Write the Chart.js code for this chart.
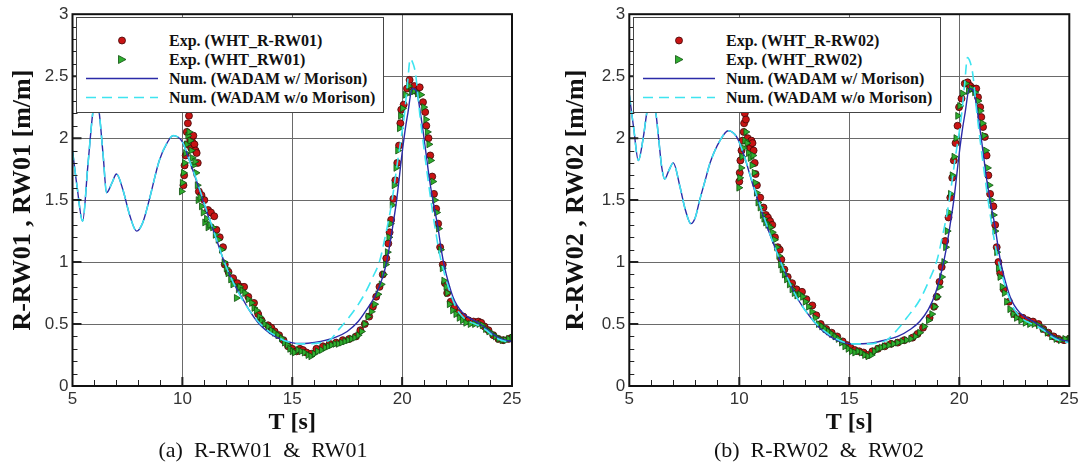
<!DOCTYPE html>
<html>
<head>
<meta charset="utf-8">
<script src="https://cdn.jsdelivr.net/npm/chart.js@4.4.1/dist/chart.umd.min.js"></script>
<style>
  body { margin: 0; background: #fff; }
  #page { position: relative; width: 1082px; height: 476px; overflow: hidden; }
  .panel { position: absolute; top: 0; width: 541px; height: 440px; }
  .legend { position: absolute; top: 17px; width: 306px; height: 94px; background: #fff; border: 1px solid #444; }
  .legend .row { position: absolute; left: 0; width: 100%; height: 19px; }
  .legend svg { position: absolute; left: 8px; top: 0; }
  .legend span { position: absolute; left: 92px; top: 0; font: bold 16px "Liberation Serif", serif; line-height: 19px; color: #111; white-space: nowrap; }
  .caption { position: absolute; top: 437px; width: 526px; text-align: center; font: 22px "Liberation Serif", serif; line-height: 26px; white-space: pre; color: #111; }
</style>
</head>
<body>
<div id="page">
  <div class="panel" style="left:0"><canvas id="chartA"></canvas></div>
  <div class="panel" style="left:541px"><canvas id="chartB"></canvas></div>
  <div class="legend" id="legendA" style="left:76px"></div>
  <div class="legend" id="legendB" style="left:633px"></div>
  <div class="caption" style="left:0">(a)  R-RW01  &amp;  RW01</div>
  <div class="caption" style="left:556px">(b)  R-RW02  &amp;  RW02</div>
</div>
<script>
// ---- data: [T (s), value (m/m)] ----

// (a) numerical, WADAM with Morison
const numWithA = [[5.0,1.90],[5.2,1.62],[5.46,1.33],[5.7,1.78],[5.92,2.20],[6.07,2.35],[6.22,2.20],[6.4,1.85],[6.55,1.56],[6.8,1.64],[7.0,1.71],[7.3,1.58],[7.6,1.38],[7.92,1.25],[8.2,1.32],[8.49,1.50],[8.95,1.82],[9.3,1.96],[9.58,2.02],[10.0,1.97],[10.26,1.85],[10.65,1.65],[11.02,1.45],[11.48,1.22],[11.93,0.99],[12.3,0.84],[12.69,0.72],[13.05,0.61],[13.45,0.51],[13.8,0.45],[14.2,0.40],[14.6,0.37],[14.96,0.35],[15.35,0.343],[15.72,0.345],[16.3,0.36],[16.93,0.39],[17.5,0.44],[18.0,0.52],[18.4,0.62],[18.75,0.72],[19.0,0.82],[19.2,0.93],[19.4,1.10],[19.6,1.32],[19.75,1.50],[20.0,1.88],[20.15,2.08],[20.26,2.20],[20.46,2.40],[20.67,2.37],[20.8,2.24],[20.95,2.06],[21.1,1.86],[21.25,1.66],[21.45,1.45],[21.63,1.28],[21.78,1.10],[21.93,0.96],[22.1,0.84],[22.31,0.72],[22.5,0.65],[22.76,0.59],[23.05,0.55],[23.37,0.52],[23.7,0.48],[23.98,0.44],[24.2,0.41],[24.43,0.385],[24.7,0.37],[25.0,0.36]];

// (a) numerical, WADAM without Morison
const numWithoutA = [[5.0,1.90],[5.2,1.62],[5.46,1.33],[5.7,1.78],[5.92,2.20],[6.07,2.35],[6.22,2.20],[6.4,1.85],[6.55,1.56],[6.8,1.64],[7.0,1.71],[7.3,1.58],[7.6,1.38],[7.92,1.25],[8.2,1.32],[8.49,1.50],[8.95,1.82],[9.3,1.96],[9.58,2.02],[10.0,1.97],[10.26,1.85],[10.65,1.66],[11.02,1.46],[11.48,1.22],[11.93,0.99],[12.3,0.84],[12.69,0.71],[13.05,0.61],[13.45,0.52],[13.8,0.46],[14.2,0.41],[14.6,0.37],[14.96,0.35],[15.35,0.34],[15.72,0.34],[16.3,0.35],[16.7,0.37],[17.16,0.465],[17.61,0.56],[18.22,0.72],[18.67,0.88],[18.98,1.01],[19.2,1.18],[19.5,1.45],[19.8,1.82],[20.11,2.20],[20.25,2.45],[20.37,2.64],[20.5,2.60],[20.61,2.52],[20.8,2.20],[20.95,1.98],[21.1,1.77],[21.4,1.39],[21.7,1.07],[21.86,0.95],[22.1,0.80],[22.46,0.63],[22.75,0.56],[23.07,0.52],[23.45,0.49],[23.83,0.45],[24.1,0.41],[24.43,0.375],[24.7,0.36],[25.0,0.35]];

// (a) experiment WHT_R-RW01
const expRA = [[10.05,1.62],[10.08,1.70],[10.1,1.78],[10.15,1.86],[10.2,1.95],[10.2,2.05],[10.25,2.12],[10.3,2.18],[10.35,2.00],[10.4,1.92],[10.45,1.97],[10.5,2.02],[10.55,1.95],[10.6,1.90],[10.65,1.88],[10.7,1.80],[10.75,1.57],[10.87,1.54],[11.0,1.50],[11.17,1.42],[11.3,1.40],[11.45,1.37],[11.55,1.26],[11.7,1.20],[11.85,1.12],[11.93,0.98],[12.1,0.92],[12.31,0.87],[12.5,0.83],[12.65,0.80],[12.81,0.80],[13.0,0.72],[13.26,0.67],[13.45,0.58],[13.6,0.53],[13.9,0.49],[14.05,0.47],[14.2,0.44],[14.4,0.41],[14.6,0.37],[14.81,0.32],[15.0,0.30],[15.2,0.28],[15.35,0.30],[15.49,0.29],[15.65,0.27],[15.87,0.26],[16.1,0.30],[16.4,0.32],[16.7,0.34],[17.0,0.35],[17.3,0.37],[17.6,0.38],[17.9,0.40],[18.1,0.45],[18.3,0.50],[18.5,0.56],[18.67,0.64],[18.82,0.72],[18.97,0.80],[19.12,0.90],[19.28,1.03],[19.37,1.15],[19.43,1.24],[19.5,1.34],[19.6,1.51],[19.69,1.66],[19.78,1.80],[19.86,1.94],[19.92,2.12],[19.96,2.23],[20.07,2.27],[20.22,2.40],[20.34,2.47],[20.45,2.40],[20.55,2.42],[20.65,2.38],[20.8,2.41],[20.95,2.29],[21.05,2.21],[21.1,2.10],[21.2,2.00],[21.28,1.86],[21.37,1.69],[21.45,1.55],[21.55,1.43],[21.64,1.31],[21.73,1.12],[21.85,0.98],[21.95,0.83],[22.05,0.75],[22.21,0.68],[22.37,0.63],[22.56,0.59],[22.79,0.56],[23.02,0.53],[23.25,0.52],[23.47,0.52],[23.6,0.51],[23.75,0.48],[23.93,0.45],[24.15,0.41],[24.38,0.38],[24.6,0.37],[24.85,0.38],[25.0,0.39]];

// (a) experiment WHT_RW01
const expA = [[9.96,1.57],[10.0,1.64],[10.05,1.72],[10.1,1.80],[10.15,1.88],[10.2,1.95],[10.25,2.02],[10.3,2.05],[10.35,1.98],[10.4,1.90],[10.45,1.84],[10.5,1.78],[10.57,1.81],[10.62,1.72],[10.68,1.62],[10.72,1.50],[10.8,1.52],[10.87,1.45],[10.95,1.40],[11.02,1.32],[11.1,1.35],[11.17,1.28],[11.25,1.30],[11.38,1.28],[11.5,1.22],[11.63,1.18],[11.78,1.10],[11.9,1.00],[12.0,0.95],[12.08,0.91],[12.2,0.86],[12.3,0.82],[12.46,0.71],[12.55,0.78],[12.61,0.80],[12.72,0.77],[12.84,0.75],[13.0,0.70],[13.15,0.67],[13.26,0.63],[13.37,0.61],[13.5,0.56],[13.6,0.53],[13.75,0.50],[13.9,0.48],[14.05,0.45],[14.2,0.43],[14.35,0.41],[14.51,0.385],[14.65,0.35],[14.78,0.33],[14.89,0.30],[15.0,0.28],[15.1,0.27],[15.26,0.29],[15.4,0.28],[15.55,0.27],[15.72,0.25],[15.85,0.24],[16.0,0.26],[16.15,0.28],[16.33,0.29],[16.5,0.31],[16.65,0.32],[16.78,0.33],[16.95,0.34],[17.1,0.34],[17.25,0.35],[17.4,0.36],[17.55,0.37],[17.7,0.38],[17.85,0.39],[18.0,0.41],[18.15,0.44],[18.3,0.50],[18.45,0.56],[18.6,0.60],[18.75,0.66],[18.9,0.74],[19.05,0.82],[19.15,0.90],[19.25,0.98],[19.33,1.08],[19.4,1.20],[19.47,1.31],[19.55,1.46],[19.64,1.62],[19.72,1.76],[19.8,1.90],[19.88,2.08],[19.93,2.18],[20.02,2.24],[20.15,2.35],[20.3,2.42],[20.42,2.37],[20.55,2.38],[20.7,2.36],[20.85,2.35],[20.98,2.25],[21.08,2.15],[21.15,2.05],[21.22,1.95],[21.3,1.82],[21.4,1.65],[21.48,1.50],[21.57,1.40],[21.66,1.27],[21.75,1.10],[21.83,0.95],[21.9,0.85],[22.0,0.80],[22.05,0.75],[22.15,0.66],[22.3,0.61],[22.45,0.58],[22.6,0.55],[22.75,0.53],[22.9,0.51],[23.1,0.50],[23.3,0.50],[23.5,0.50],[23.65,0.49],[23.8,0.46],[23.95,0.44],[24.1,0.42],[24.25,0.40],[24.4,0.38],[24.55,0.37],[24.7,0.37],[24.85,0.38],[25.0,0.39]];

// (b) numerical, WADAM with Morison
const numWithB = [[5.0,2.35],[5.2,2.08],[5.41,1.82],[5.64,2.01],[5.79,2.20],[6.0,2.40],[6.21,2.20],[6.35,1.97],[6.47,1.77],[6.61,1.67],[6.8,1.74],[7.0,1.80],[7.3,1.61],[7.55,1.42],[7.8,1.31],[8.0,1.36],[8.2,1.50],[8.45,1.66],[8.67,1.80],[9.12,1.98],[9.5,2.06],[9.88,2.01],[10.18,1.88],[10.64,1.61],[11.09,1.37],[11.55,1.15],[12.0,0.95],[12.6,0.72],[13.21,0.56],[13.82,0.44],[14.42,0.37],[15.18,0.34],[15.94,0.345],[16.6,0.37],[17.2,0.40],[17.8,0.46],[18.2,0.52],[18.6,0.62],[18.9,0.74],[19.2,0.93],[19.4,1.10],[19.6,1.32],[19.75,1.50],[20.0,1.88],[20.15,2.08],[20.26,2.20],[20.46,2.40],[20.67,2.37],[20.8,2.24],[20.95,2.06],[21.1,1.86],[21.25,1.66],[21.45,1.45],[21.63,1.28],[21.78,1.10],[21.93,0.96],[22.1,0.84],[22.31,0.72],[22.5,0.65],[22.76,0.59],[23.05,0.55],[23.37,0.52],[23.7,0.48],[23.98,0.44],[24.2,0.41],[24.43,0.385],[24.7,0.37],[25.0,0.36]];

// (b) numerical, WADAM without Morison
const numWithoutB = [[5.0,2.35],[5.2,2.08],[5.41,1.82],[5.64,2.01],[5.79,2.20],[6.0,2.40],[6.21,2.20],[6.35,1.97],[6.47,1.77],[6.61,1.67],[6.8,1.74],[7.0,1.80],[7.3,1.61],[7.55,1.42],[7.8,1.31],[8.0,1.36],[8.2,1.50],[8.45,1.66],[8.67,1.80],[9.12,1.98],[9.5,2.06],[9.88,2.01],[10.18,1.88],[10.64,1.62],[11.09,1.38],[11.55,1.15],[12.0,0.95],[12.6,0.72],[13.21,0.56],[13.82,0.45],[14.42,0.38],[15.18,0.34],[15.94,0.34],[16.3,0.35],[16.7,0.37],[17.16,0.45],[17.61,0.55],[18.22,0.70],[18.67,0.87],[18.98,1.01],[19.2,1.18],[19.5,1.45],[19.8,1.82],[20.11,2.20],[20.25,2.45],[20.37,2.65],[20.5,2.61],[20.61,2.52],[20.8,2.20],[20.95,1.98],[21.1,1.77],[21.4,1.39],[21.7,1.07],[21.86,0.95],[22.1,0.80],[22.46,0.63],[22.75,0.56],[23.07,0.52],[23.45,0.49],[23.83,0.45],[24.1,0.41],[24.43,0.375],[24.7,0.36],[25.0,0.35]];

// (b) experiment WHT_R-RW02
const expRB = [[10.0,1.65],[10.02,1.72],[10.05,1.82],[10.1,1.90],[10.15,1.98],[10.2,2.05],[10.22,2.12],[10.25,2.20],[10.3,2.15],[10.38,2.00],[10.45,1.95],[10.5,1.92],[10.55,1.98],[10.6,1.96],[10.65,1.90],[10.7,1.80],[10.74,1.71],[10.8,1.62],[10.95,1.52],[11.1,1.44],[11.21,1.38],[11.3,1.36],[11.4,1.33],[11.5,1.30],[11.62,1.20],[11.75,1.12],[11.84,1.10],[11.91,1.02],[12.05,0.94],[12.2,0.88],[12.4,0.83],[12.6,0.78],[12.85,0.76],[13.05,0.70],[13.32,0.65],[13.5,0.57],[13.7,0.50],[13.95,0.46],[14.2,0.43],[14.45,0.40],[14.7,0.36],[14.9,0.33],[15.05,0.31],[15.25,0.29],[15.45,0.28],[15.65,0.27],[15.83,0.25],[16.05,0.28],[16.3,0.30],[16.61,0.32],[16.9,0.34],[17.2,0.35],[17.5,0.37],[17.87,0.39],[18.1,0.42],[18.35,0.47],[18.65,0.55],[18.85,0.64],[18.97,0.72],[19.1,0.84],[19.2,0.96],[19.36,1.17],[19.51,1.36],[19.59,1.52],[19.68,1.68],[19.75,1.82],[19.83,1.96],[19.92,2.10],[19.99,2.25],[20.1,2.32],[20.25,2.44],[20.38,2.45],[20.5,2.42],[20.65,2.40],[20.77,2.40],[20.85,2.33],[20.95,2.25],[21.0,2.17],[21.08,2.09],[21.16,2.01],[21.24,1.86],[21.32,1.70],[21.4,1.55],[21.55,1.45],[21.63,1.30],[21.7,1.12],[21.78,1.00],[21.86,0.91],[22.02,0.78],[22.26,0.68],[22.49,0.58],[22.7,0.56],[22.89,0.55],[23.1,0.53],[23.35,0.52],[23.6,0.50],[23.82,0.46],[24.05,0.43],[24.29,0.40],[24.5,0.38],[24.76,0.37],[25.0,0.38]];

// (b) experiment WHT_RW02
const expB = [[9.98,1.60],[10.02,1.68],[10.08,1.76],[10.12,1.85],[10.18,1.92],[10.25,1.98],[10.3,2.05],[10.35,1.96],[10.42,1.88],[10.5,1.84],[10.58,1.78],[10.62,1.86],[10.68,1.72],[10.72,1.64],[10.78,1.56],[10.85,1.48],[10.95,1.44],[11.05,1.38],[11.12,1.35],[11.2,1.32],[11.3,1.30],[11.4,1.28],[11.5,1.24],[11.6,1.18],[11.7,1.12],[11.8,1.05],[11.88,0.98],[11.95,0.94],[12.05,0.90],[12.15,0.86],[12.28,0.82],[12.4,0.78],[12.5,0.75],[12.62,0.73],[12.75,0.74],[12.88,0.72],[13.0,0.68],[13.15,0.64],[13.3,0.60],[13.45,0.55],[13.6,0.50],[13.75,0.48],[13.9,0.46],[14.05,0.44],[14.2,0.42],[14.35,0.40],[14.5,0.38],[14.65,0.35],[14.8,0.32],[14.95,0.30],[15.1,0.28],[15.25,0.27],[15.4,0.28],[15.55,0.27],[15.7,0.25],[15.85,0.24],[16.0,0.25],[16.15,0.28],[16.3,0.30],[16.45,0.31],[16.6,0.32],[16.8,0.33],[17.0,0.34],[17.2,0.35],[17.4,0.36],[17.6,0.37],[17.8,0.38],[18.0,0.40],[18.2,0.43],[18.4,0.48],[18.6,0.53],[18.75,0.58],[18.88,0.64],[19.0,0.72],[19.1,0.80],[19.2,0.88],[19.3,1.00],[19.38,1.12],[19.45,1.25],[19.53,1.40],[19.6,1.55],[19.68,1.70],[19.76,1.85],[19.85,2.00],[19.93,2.18],[20.02,2.26],[20.15,2.36],[20.3,2.44],[20.42,2.38],[20.55,2.40],[20.7,2.37],[20.85,2.30],[20.95,2.22],[21.05,2.12],[21.12,2.02],[21.2,1.90],[21.28,1.76],[21.36,1.62],[21.45,1.50],[21.55,1.38],[21.62,1.25],[21.7,1.08],[21.78,0.95],[21.85,0.88],[21.95,0.80],[22.05,0.75],[22.15,0.68],[22.3,0.62],[22.45,0.58],[22.6,0.55],[22.8,0.53],[23.0,0.51],[23.2,0.50],[23.4,0.50],[23.6,0.49],[23.8,0.46],[24.0,0.43],[24.2,0.40],[24.4,0.38],[24.6,0.37],[24.8,0.38],[25.0,0.38]];

const legendA = ['Exp. (WHT_R-RW01)', 'Exp. (WHT_RW01)', 'Num. (WADAM w/ Morison)', 'Num. (WADAM w/o Morison)'];
const legendB = ['Exp. (WHT_R-RW02)', 'Exp. (WHT_RW02)', 'Num. (WADAM w/ Morison)', 'Num. (WADAM w/o Morison)'];

const RED = '#c81414', RED_EDGE = '#400606';
const GREEN = '#2fae2f', GREEN_EDGE = '#0f4f0f';
const BLUE = '#2b2ba8', CYAN = '#3ee4f0';

function toXY(pts) {
    return pts.map(function (p) { return {x: p[0], y: p[1]} });
}

// frame round the plot plus the little inward ticks tecplot draws
const frameTicks = {
    id: 'frameTicks',
    afterDraw(chart) {
        const ctx = chart.ctx, a = chart.chartArea;
        const x = chart.scales.x, y = chart.scales.y;
        ctx.save();
        ctx.strokeStyle = '#222';
        ctx.lineWidth = 1;
        ctx.beginPath();
        for (let i = 6; i < 25; i++) {
            if (i % 5 === 0) continue;
            const px = Math.round(x.getPixelForValue(i)) + 0.5;
            ctx.moveTo(px, a.bottom);
            ctx.lineTo(px, a.bottom - 6);
        }
        for (let i = 1; i < 30; i++) {
            if (i % 5 === 0) continue;
            const py = Math.round(y.getPixelForValue(i / 10)) + 0.5;
            ctx.moveTo(a.left, py);
            ctx.lineTo(a.left + 5, py);
        }
        ctx.stroke();
        ctx.lineWidth = 2;
        ctx.beginPath();
        for (let v = 10; v < 25; v += 5) {
            const px = x.getPixelForValue(v);
            ctx.moveTo(px, a.bottom);
            ctx.lineTo(px, a.bottom - 9);
        }
        for (let i = 1; i < 6; i++) {
            const py = y.getPixelForValue(i / 2);
            ctx.moveTo(a.left, py);
            ctx.lineTo(a.left + 9, py);
        }
        ctx.stroke();
        ctx.strokeStyle = '#111';
        ctx.strokeRect(a.left, a.top, a.right - a.left, a.bottom - a.top);
        ctx.restore();
    }
};

function drawPanel(id, series, yTitle, axisWidth, padRight, titlePad) {
    const tickFont = {family: '"Liberation Sans", Arial, sans-serif', size: 17};
    return new Chart(document.getElementById(id), {
        type: 'scatter',
        data: {
            datasets: [
                {
                    data: toXY(series.without), showLine: true, pointRadius: 0,
                    borderColor: CYAN, borderWidth: 1.6, borderDash: [10, 6],
                    cubicInterpolationMode: 'monotone', order: 0
                },
                {
                    data: toXY(series.with), showLine: true, pointRadius: 0,
                    borderColor: BLUE, borderWidth: 1.4,
                    cubicInterpolationMode: 'monotone', order: 1
                },
                {
                    data: toXY(series.exp), pointStyle: 'triangle', pointRotation: 90, pointRadius: 4,
                    pointBackgroundColor: GREEN, pointBorderColor: GREEN_EDGE, pointBorderWidth: 0.8, order: 2
                },
                {
                    data: toXY(series.expR), pointStyle: 'circle', pointRadius: 3.5,
                    pointBackgroundColor: RED, pointBorderColor: RED_EDGE, pointBorderWidth: 0.8, order: 3
                }
            ]
        },
        options: {
            responsive: true,
            maintainAspectRatio: false,
            animation: false,
            events: [],
            layout: {padding: {top: 14, right: padRight, left: 0, bottom: 0}},
            plugins: {legend: {display: false}, tooltip: {enabled: false}},
            scales: {
                x: {
                    type: 'linear', min: 5, max: 25,
                    ticks: {stepSize: 5, color: '#333', padding: 3, font: tickFont},
                    grid: {color: '#6a6a6a', lineWidth: 1, drawTicks: false},
                    border: {display: false},
                    title: {
                        display: true, text: 'T [s]', color: '#111',
                        font: {family: '"Liberation Serif", serif', size: 24, weight: 'bold'},
                        padding: {top: 0, bottom: 3}
                    },
                    afterFit: function (s) { s.height = 54 }
                },
                y: {
                    type: 'linear', min: 0, max: 3,
                    ticks: {
                        stepSize: 0.5, color: '#333', padding: 4, font: tickFont,
                        callback: function (v) { return String(Math.round(v * 10) / 10) }
                    },
                    grid: {color: '#6a6a6a', lineWidth: 1, drawTicks: false},
                    border: {display: false},
                    title: {
                        display: true, text: yTitle, color: '#111',
                        font: {family: '"Liberation Serif", serif', size: 26, weight: 'bold'},
                        padding: {top: titlePad, bottom: 0}
                    },
                    afterFit: function (s) { s.width = axisWidth }
                }
            }
        },
        plugins: [frameTicks]
    });
}

function buildLegend(id, labels) {
    const symbols = [
        '<circle cx="37" cy="9.5" r="3.5" fill="' + RED + '" stroke="' + RED_EDGE + '" stroke-width="0.8"/>',
        '<polygon points="33.5,5.5 41,9.5 33.5,13.5" fill="' + GREEN + '" stroke="' + GREEN_EDGE + '" stroke-width="0.8"/>',
        '<line x1="1" y1="9.5" x2="73" y2="9.5" stroke="' + BLUE + '" stroke-width="1.4"/>',
        '<line x1="1" y1="9.5" x2="73" y2="9.5" stroke="' + CYAN + '" stroke-width="1.6" stroke-dasharray="10 6"/>'
    ];
    const box = document.getElementById(id);
    labels.forEach(function (text, i) {
        const row = document.createElement('div');
        row.className = 'row';
        row.style.top = (13 + i * 19) + 'px';
        row.innerHTML = '<svg width="76" height="19">' + symbols[i] + '</svg>';
        const span = document.createElement('span');
        span.textContent = text;
        row.appendChild(span);
        box.appendChild(row);
    });
}

drawPanel('chartA', {with: numWithA, without: numWithoutA, exp: expA, expR: expRA},
    'R-RW01 , RW01 [m/m]', 72.5, 29, 7.7);
drawPanel('chartB', {with: numWithB, without: numWithoutB, exp: expB, expR: expRB},
    'R-RW02 , RW02 [m/m]', 88.3, 12.7, 19.4);
buildLegend('legendA', legendA);
buildLegend('legendB', legendB);
</script>
</body>
</html>
